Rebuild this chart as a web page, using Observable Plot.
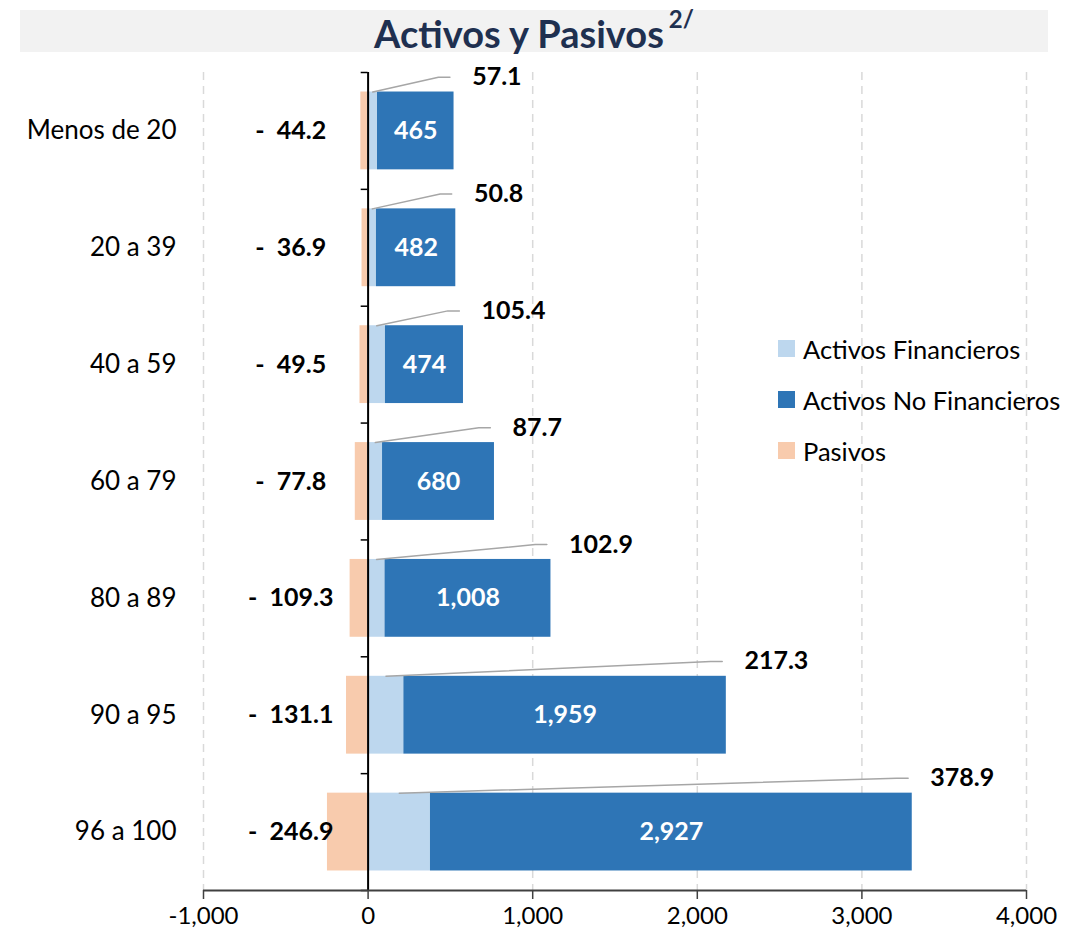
<!DOCTYPE html>
<html><head><meta charset="utf-8">
<script src="https://cdn.jsdelivr.net/npm/d3@7"></script>
<script src="https://cdn.jsdelivr.net/npm/@observablehq/plot@0.6"></script>
<style>
body{margin:0;background:#fff;font-family:Lato,sans-serif;}
#wrap{position:relative;width:1073px;height:947px;}
#title{position:absolute;left:20px;top:10px;width:1028px;height:42px;background:#f2f2f2;text-align:center;font-weight:bold;font-size:38px;line-height:46px;color:#1f3050;}
#title sup{font-size:24px;vertical-align:top;position:relative;top:-14px;margin-left:5px;}
#chart{position:absolute;left:0;top:52px;}
#legend{position:absolute;left:778px;top:323px;font-size:25.5px;color:#000;}
.li{display:flex;align-items:center;height:51px;}
.sw{width:17px;height:17px;margin-right:8px;}
</style></head>
<body><div id="wrap"><div id="title">Activos y Pasivos<sup>2/</sup></div><div id="chart"></div><div id="legend"></div></div>
<script>
const categories = ["Menos de 20","20 a 39","40 a 59","60 a 79","80 a 89","90 a 95","96 a 100"];
const activosFinancieros = [57.1,50.8,105.4,87.7,102.9,217.3,378.9];
const activosNoFinancieros = [465,482,474,680,1008,1959,2927];
const pasivos = [44.2,36.9,49.5,77.8,109.3,131.1,246.9];
const xTicks = [-1000,0,1000,2000,3000,4000];
const seriesNames = ["Activos Financieros","Activos No Financieros","Pasivos"];
const seriesColors = ["#bdd7ee","#2e75b6","#f8cbad"];

const rows = categories.map((c,i)=>({
  i, cat:c, fin:activosFinancieros[i], nonfin:activosNoFinancieros[i], pas:pasivos[i],
  total:activosFinancieros[i]+activosNoFinancieros[i]
}));
const half = 0.333;
const labelOff = -0.46;
const leader = [];
rows.forEach(d=>{
  const L = d.total + 110;
  leader.push({i:d.i, x:d.fin/2, y:d.i-half});
  leader.push({i:d.i, x:L-205, y:d.i+labelOff});
  leader.push({i:d.i, x:L-135, y:d.i+labelOff});
});
const fmt1 = d3.format(".1f");
const fmtTick = d => (d<0?"-":"") + d3.format(",")(Math.abs(d));
const boundaries = d3.range(categories.length+1).map(k=>k-0.5);

const chart = Plot.plot({
  width:1073, height:895,
  marginLeft:203, marginRight:47, marginTop:20, marginBottom:57,
  style:{fontFamily:"Lato, sans-serif", color:"#000", background:"transparent"},
  x:{domain:[-1000,4000]},
  y:{domain:[-0.5, categories.length-0.5], reverse:true},
  marks:[
    Plot.ruleX(xTicks.filter(t=>t!==0), {stroke:"#d9d9d9", strokeDasharray:"8,6", strokeWidth:1.5}),
    Plot.rectX(rows, {x1:d=>-d.pas, x2:0, y1:d=>d.i-half, y2:d=>d.i+half, fill:seriesColors[2]}),
    Plot.rectX(rows, {x1:0, x2:d=>d.fin, y1:d=>d.i-half, y2:d=>d.i+half, fill:seriesColors[0]}),
    Plot.rectX(rows, {x1:d=>d.fin, x2:d=>d.total, y1:d=>d.i-half, y2:d=>d.i+half, fill:seriesColors[1]}),
    Plot.ruleX([0], {stroke:"#000", strokeWidth:2}),
    Plot.ruleY(boundaries, {x1:-42, x2:0, stroke:"#000", strokeWidth:1.5}),
    Plot.ruleY([categories.length-0.5], {stroke:"#404040", strokeWidth:2}),
    Plot.line(leader, {x:"x", y:"y", z:"i", stroke:"#a6a6a6", strokeWidth:1.5}),
    Plot.text(rows, {x:d=>d.fin+d.nonfin/2, y:"i", text:d=>d3.format(",")(d.nonfin), fill:"#fff", fontWeight:"bold", fontSize:25}),
    Plot.text(rows, {x:-470, y:"i", text:d=>"-\u00a0\u00a0"+fmt1(d.pas), fill:"#000", fontWeight:"bold", fontSize:25}),
    Plot.text(rows, {x:d=>d.total+110, y:d=>d.i+labelOff, text:d=>fmt1(d.fin), textAnchor:"start", fill:"#000", fontWeight:"bold", fontSize:25}),
    Plot.axisY(d3.range(categories.length), {tickSize:0, tickPadding:27, tickFormat:i=>categories[i], fontSize:26, label:null}),
    Plot.axisX(xTicks, {tickSize:9, tickPadding:7, tickFormat:fmtTick, fontSize:24, label:null, stroke:"#404040", strokeWidth:1.5})
  ]
});
document.getElementById("chart").appendChild(chart);

const leg = document.getElementById("legend");
seriesNames.forEach((n,k)=>{
  const row = document.createElement("div"); row.className="li";
  const sw = document.createElement("div"); sw.className="sw"; sw.style.background=seriesColors[k];
  const t = document.createElement("span"); t.textContent=n;
  row.appendChild(sw); row.appendChild(t); leg.appendChild(row);
});
</script>
</body></html>
